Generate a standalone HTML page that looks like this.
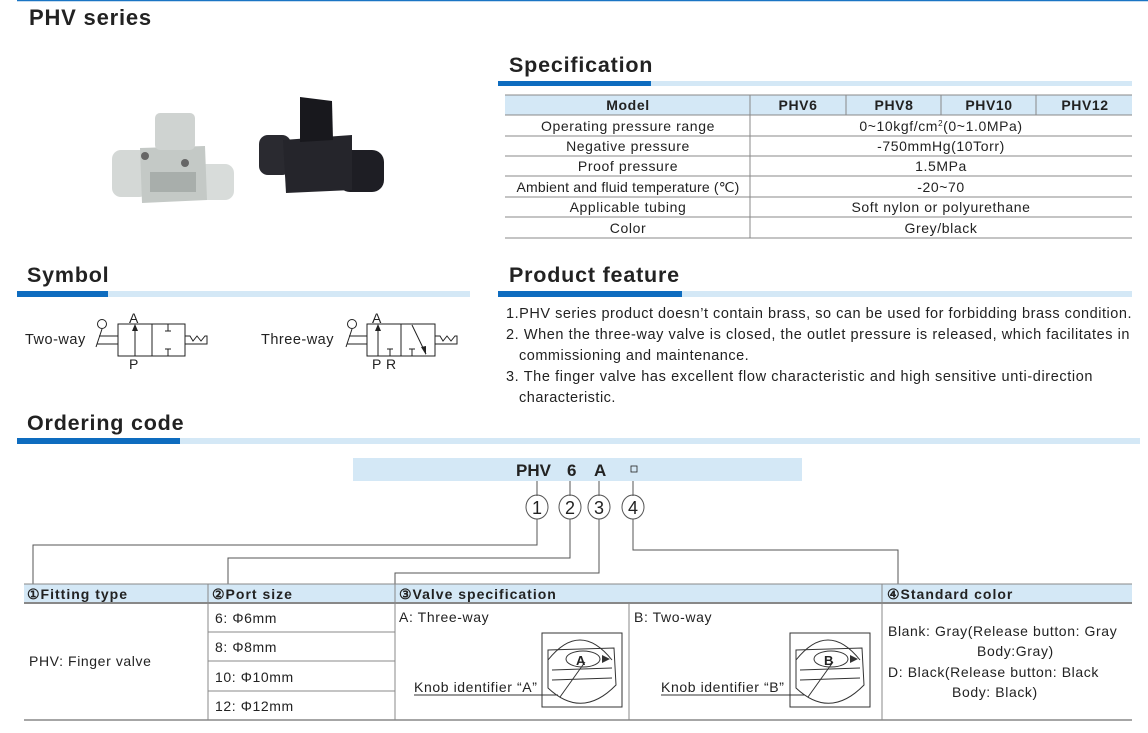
<!DOCTYPE html>
<html><head><meta charset="utf-8"><style>
html,body{margin:0;padding:0;background:#fff;}
svg{display:block;font-family:"Liberation Sans",Arial,sans-serif;}
.h{font-weight:bold;font-size:21.5px;fill:#222;letter-spacing:0.8px}
.t{font-size:14px;fill:#222;letter-spacing:0.6px}
.tb{font-size:14px;fill:#222;font-weight:bold;letter-spacing:0.6px}
.f{font-size:14.5px;fill:#222;letter-spacing:0.5px}
</style></head><body>
<svg width="1148" height="733" viewBox="0 0 1148 733" xmlns="http://www.w3.org/2000/svg">
<line x1="17" y1="0.5" x2="1148" y2="0.5" stroke="#1a75c4" stroke-width="1.5"/>
<text x="29" y="25" class="h" style="font-size:22px">PHV series</text>

<!-- gray valve -->
<g>
<rect x="112" y="150" width="36" height="47" rx="9" fill="#d4d8d6"/>
<rect x="196" y="164" width="38" height="36" rx="9" fill="#d8dcda"/>
<polygon points="140,148 205,146 207,200 142,203" fill="#c4c9c6"/>
<rect x="150" y="172" width="46" height="20" fill="#a8aeab"/>
<rect x="155" y="113" width="40" height="37" rx="5" fill="#cfd3d1"/>
<circle cx="145" cy="156" r="4" fill="#666"/><circle cx="185" cy="163" r="4" fill="#666"/>
</g>
<!-- black valve -->
<g>
<rect x="259" y="135" width="32" height="40" rx="9" fill="#2a2a30"/>
<rect x="338" y="150" width="46" height="42" rx="12" fill="#1e1e24"/>
<polygon points="283,140 352,135 352,190 286,193" fill="#25252b"/>
<polygon points="300,97 332,101 333,140 300,142" fill="#18181d"/>
</g>

<!-- Specification -->
<text x="509" y="72" class="h">Specification</text>
<rect x="498" y="81" width="634" height="5" fill="#d4e8f6"/>
<rect x="498" y="81" width="153" height="5" fill="#0e6cbf"/>
<rect x="505" y="95" width="627" height="20" fill="#d4e8f6"/>
<g stroke="#888" stroke-width="1">
<line x1="505" y1="95" x2="1132" y2="95"/>
<line x1="505" y1="115" x2="1132" y2="115"/>
<line x1="505" y1="136" x2="1132" y2="136"/>
<line x1="505" y1="156" x2="1132" y2="156"/>
<line x1="505" y1="176" x2="1132" y2="176"/>
<line x1="505" y1="197" x2="1132" y2="197"/>
<line x1="505" y1="217" x2="1132" y2="217"/>
<line x1="505" y1="238" x2="1132" y2="238"/>
<line x1="750" y1="95" x2="750" y2="238"/>
<line x1="846" y1="95" x2="846" y2="115"/>
<line x1="941" y1="95" x2="941" y2="115"/>
<line x1="1036" y1="95" x2="1036" y2="115"/>
</g>
<g class="t" text-anchor="middle">
<text x="628" y="110" class="tb">Model</text>
<text x="798" y="110" class="tb">PHV6</text>
<text x="894" y="110" class="tb">PHV8</text>
<text x="989" y="110" class="tb">PHV10</text>
<text x="1085" y="110" class="tb">PHV12</text>
<text x="628" y="131">Operating pressure range</text>
<text x="628" y="151">Negative pressure</text>
<text x="628" y="171">Proof pressure</text>
<text x="628" y="192" style="letter-spacing:0.2px">Ambient and fluid temperature (℃)</text>
<text x="628" y="212">Applicable tubing</text>
<text x="628" y="233">Color</text>
<text x="941" y="131">0~10kgf/cm<tspan dy="-5" font-size="8">2</tspan><tspan dy="5">(0~1.0MPa)</tspan></text>
<text x="941" y="151">-750mmHg(10Torr)</text>
<text x="941" y="171">1.5MPa</text>
<text x="941" y="192">-20~70</text>
<text x="941" y="212">Soft nylon or polyurethane</text>
<text x="941" y="233">Grey/black</text>
</g>

<!-- Symbol -->
<text x="27" y="282" class="h">Symbol</text>
<rect x="17" y="291" width="453" height="6" fill="#d4e8f6"/>
<rect x="17" y="291" width="91" height="6" fill="#0e6cbf"/>
<text x="25" y="344" class="f">Two-way</text>
<g stroke="#222" fill="none" stroke-width="1">
<circle cx="102" cy="324" r="4.5"/>
<line x1="102" y1="329" x2="96" y2="347"/>
<line x1="99" y1="336" x2="118" y2="336"/><line x1="97" y1="344" x2="118" y2="344"/>
<rect x="118" y="324" width="34" height="32"/><rect x="152" y="324" width="33" height="32"/>
<line x1="135" y1="356" x2="135" y2="327"/>
<line x1="168" y1="324" x2="168" y2="331"/><line x1="165" y1="331" x2="171" y2="331"/>
<line x1="168" y1="356" x2="168" y2="349"/><line x1="165" y1="349" x2="171" y2="349"/>
<polyline points="185,336 190,336 193,341 197,336 201,341 205,336 207,336 207,344 185,344"/>
</g>
<polygon points="135,324 132,331 138,331" fill="#222"/>
<text x="129" y="323" class="t">A</text><text x="129" y="369" class="t">P</text>

<text x="261" y="344" class="f">Three-way</text>
<g stroke="#222" fill="none" stroke-width="1">
<circle cx="352" cy="324" r="4.5"/>
<line x1="352" y1="329" x2="346" y2="347"/>
<line x1="349" y1="336" x2="367" y2="336"/><line x1="347" y1="344" x2="367" y2="344"/>
<rect x="367" y="324" width="34" height="32"/><rect x="401" y="324" width="34" height="32"/>
<line x1="378" y1="356" x2="378" y2="327"/>
<line x1="390" y1="356" x2="390" y2="349"/><line x1="387" y1="349" x2="393" y2="349"/>
<line x1="412" y1="356" x2="412" y2="349"/><line x1="409" y1="349" x2="415" y2="349"/>
<line x1="412" y1="325" x2="426" y2="354"/>
<polyline points="435,336 440,336 443,341 447,336 451,341 455,336 457,336 457,344 435,344"/>
</g>
<polygon points="378,324 375,331 381,331" fill="#222"/>
<polygon points="426,355 421,347 426,346" fill="#222"/>
<text x="372" y="323" class="t">A</text><text x="372" y="369" class="t">P</text><text x="386" y="369" class="t">R</text>

<!-- Product feature -->
<text x="509" y="282" class="h">Product feature</text>
<rect x="498" y="291" width="634" height="6" fill="#d4e8f6"/>
<rect x="498" y="291" width="184" height="6" fill="#0e6cbf"/>
<g class="f">
<text x="506" y="318" textLength="626" lengthAdjust="spacing">1.PHV series product doesn’t contain brass, so can be used for forbidding brass condition.</text>
<text x="506" y="339" textLength="624" lengthAdjust="spacing">2. When the three-way valve is closed, the outlet pressure is released, which facilitates in</text>
<text x="519" y="360">commissioning and maintenance.</text>
<text x="506" y="381" textLength="587" lengthAdjust="spacing">3. The finger valve has excellent flow characteristic and high sensitive unti-direction</text>
<text x="519" y="402">characteristic.</text>
</g>

<!-- Ordering code -->
<text x="27" y="430" class="h">Ordering code</text>
<rect x="17" y="438" width="1123" height="6" fill="#d4e8f6"/>
<rect x="17" y="438" width="163" height="6" fill="#0e6cbf"/>
<rect x="353" y="458" width="449" height="23" fill="#d4e8f6"/>
<g font-weight="bold" font-size="17" fill="#222">
<text x="516" y="476">PHV</text><text x="567" y="476">6</text><text x="594" y="476">A</text>
</g>
<rect x="631" y="466" width="6" height="6" fill="none" stroke="#222" stroke-width="0.8"/>
<g stroke="#555" fill="none" stroke-width="1">
<line x1="537" y1="481" x2="537" y2="496"/><line x1="570" y1="481" x2="570" y2="496"/>
<line x1="599" y1="481" x2="599" y2="496"/><line x1="633" y1="481" x2="633" y2="496"/>
<ellipse cx="537" cy="507" rx="11" ry="12"/><ellipse cx="570" cy="507" rx="11" ry="12"/>
<ellipse cx="599" cy="507" rx="11" ry="12"/><ellipse cx="633" cy="507" rx="11" ry="12"/>
<polyline points="537,519 537,545 33,545 33,584"/>
<polyline points="570,519 570,558 228,558 228,584"/>
<polyline points="599,519 599,573 395,573 395,584"/>
<polyline points="633,519 633,550 898,550 898,584"/>
</g>
<g font-size="18" fill="#222" text-anchor="middle">
<text x="537" y="514">1</text><text x="570" y="514">2</text><text x="599" y="514">3</text><text x="633" y="514">4</text>
</g>

<rect x="24" y="584" width="1108" height="19" fill="#d4e8f6"/>
<g stroke="#888" stroke-width="1" fill="none">
<line x1="24" y1="584" x2="1132" y2="584"/>
<line x1="24" y1="603" x2="1132" y2="603" stroke-width="2"/>
<line x1="24" y1="720" x2="1132" y2="720" stroke-width="1.5"/>
<line x1="208" y1="584" x2="208" y2="720"/>
<line x1="395" y1="584" x2="395" y2="720"/>
<line x1="882" y1="584" x2="882" y2="720"/>
<line x1="629" y1="603" x2="629" y2="720"/>
<line x1="208" y1="632" x2="395" y2="632"/>
<line x1="208" y1="661" x2="395" y2="661"/>
<line x1="208" y1="691" x2="395" y2="691"/>
</g>
<g class="tb" style="letter-spacing:1px">
<text x="27" y="599">①Fitting type</text>
<text x="212" y="599">②Port size</text>
<text x="399" y="599">③Valve specification</text>
<text x="887" y="599">④Standard color</text>
</g>
<g class="t">
<text x="29" y="666">PHV: Finger valve</text>
<text x="215" y="623">6: Φ6mm</text>
<text x="215" y="652">8: Φ8mm</text>
<text x="215" y="682">10: Φ10mm</text>
<text x="215" y="711">12: Φ12mm</text>
<text x="399" y="622">A: Three-way</text>
<text x="634" y="622">B: Two-way</text>
<text x="888" y="636">Blank: Gray(Release button: Gray</text>
<text x="977" y="656">Body:Gray)</text>
<text x="888" y="677">D: Black(Release button: Black</text>
<text x="952" y="697">Body: Black)</text>
<text x="414" y="692">Knob identifier “A”</text>
<text x="661" y="692">Knob identifier “B”</text>
</g>
<g stroke="#333" fill="none" stroke-width="1">
<line x1="414" y1="695" x2="558" y2="695"/>
<rect x="542" y="633" width="80" height="74"/>
<path d="M548,660 Q580,620 612,660"/>
<path d="M548,650 L614,648 L616,685 Q582,720 548,688 Z"/>
<ellipse cx="583" cy="659" rx="17" ry="8"/>
<line x1="552" y1="670" x2="612" y2="668"/><line x1="552" y1="680" x2="612" y2="678"/>
<line x1="585" y1="662" x2="560" y2="697"/>
<line x1="661" y1="695" x2="805" y2="695"/>
<rect x="790" y="633" width="80" height="74"/>
<path d="M796,660 Q828,620 860,660"/>
<path d="M796,650 L862,648 L864,685 Q830,720 796,688 Z"/>
<ellipse cx="831" cy="659" rx="17" ry="8"/>
<line x1="800" y1="670" x2="860" y2="668"/><line x1="800" y1="680" x2="860" y2="678"/>
<line x1="833" y1="662" x2="808" y2="697"/>
</g>
<text x="576" y="665" font-size="13" font-weight="bold" fill="#222">A</text>
<text x="824" y="665" font-size="13" font-weight="bold" fill="#222">B</text>
<polygon points="602,655 610,659 602,663" fill="#333"/>
<polygon points="850,655 858,659 850,663" fill="#333"/>
</svg>
</body></html>
